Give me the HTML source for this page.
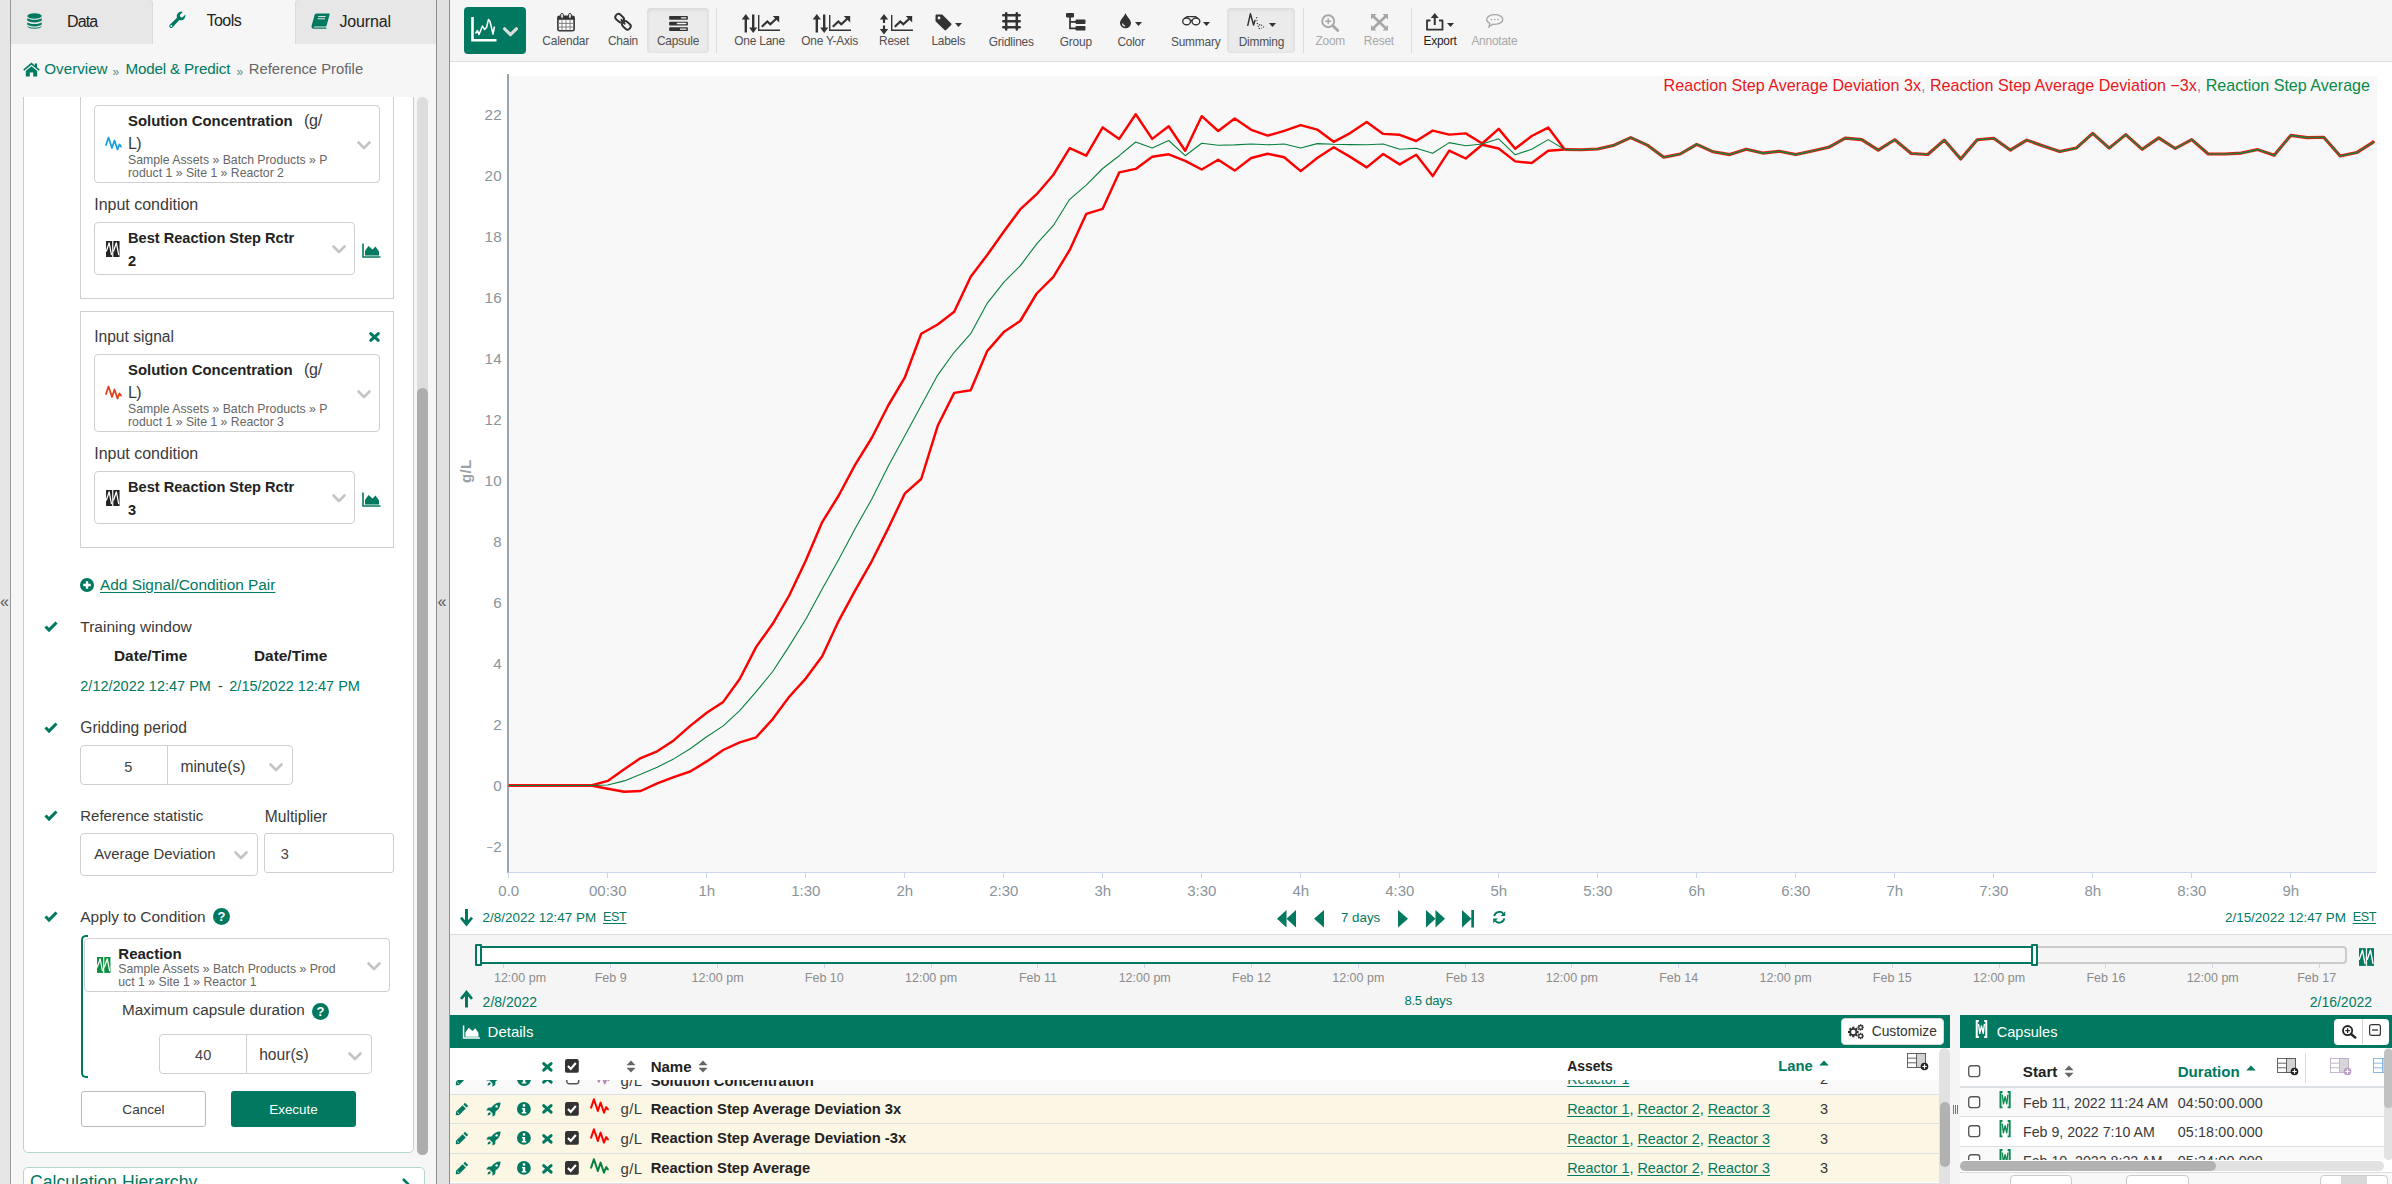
<!DOCTYPE html>
<html><head><meta charset="utf-8"><title>Reference Profile</title>
<style>
*{box-sizing:border-box}
html,body{margin:0;padding:0;overflow:hidden;width:2392px;height:1184px}
#root{position:absolute;left:0;top:0;width:2392px;height:1184px;overflow:hidden}
body{width:2392px;height:1184px;overflow:hidden;background:#fff;font-family:"Liberation Sans",sans-serif;color:#3a3a3a;position:relative;font-size:15px}
.a{position:absolute;white-space:nowrap}
.t{color:#007960}
.b{font-weight:bold}
svg{position:absolute;overflow:visible}
.ylab{position:absolute;width:40px;text-align:right;font-size:15.2px;color:#8a949b;letter-spacing:0.2px;line-height:16px}
.xlab{position:absolute;width:80px;text-align:center;font-size:15px;color:#8a949b;line-height:16px}
.slab{position:absolute;width:90px;text-align:center;font-size:12.5px;color:#8c8c8c;line-height:14px}

.box{position:absolute;border:1px solid #cfcfcf;background:#fff;border-radius:4px}

.tl{position:absolute;width:100px;text-align:center;font-size:11.9px;line-height:12px;color:#505050;letter-spacing:-0.2px;white-space:nowrap}
.tl.d{color:#a8a8a8}
.tact{position:absolute;background:#ebebeb;border-radius:4px;box-shadow:inset 0 1px 4px rgba(0,0,0,.10)}

.lnk{color:#007960;text-decoration:underline;text-underline-offset:2px}
</style></head>
<body><div id="root">
<div class="a" style="left:0;top:0;width:10px;height:1184px;background:#e6e6e6"></div>
<div class="a" style="left:10px;top:0;width:1px;height:1184px;background:#9b9b9b"></div>
<div class="a" style="left:11px;top:0;width:425px;height:1184px;background:#f6f6f6"></div>
<div class="a" style="left:436px;top:0;width:1px;height:1184px;background:#8e8e8e"></div>
<div class="a" style="left:437px;top:0;width:12px;height:1184px;background:#e1e1e1"></div>
<div class="a" style="left:449px;top:0;width:1px;height:1184px;background:#8e8e8e"></div>
<div class="a" style="left:0px;top:594.3px;font-size:16px;line-height:16px;color:#555;font-weight:normal;">«</div>
<div class="a" style="left:437.5px;top:594.3px;font-size:16px;line-height:16px;color:#555;font-weight:normal;">«</div>
<div class="a" style="left:11px;top:-4px;width:142px;height:48px;background:#e7e7e7;border-right:1px solid #dadada;border-radius:0 8px 0 0"></div>
<div class="a" style="left:295px;top:-4px;width:141px;height:48px;background:#e7e7e7;border-left:1px solid #dadada;border-radius:8px 0 0 0"></div>
<svg style="left:27px;top:13px" width="15" height="16" viewBox="0 0 15 16" ><ellipse cx="7.5" cy="3" rx="7.2" ry="2.8" fill="#007960"/><path d="M0.3 5 C2 7.4 13 7.4 14.7 5 V7.6 C13 10 2 10 0.3 7.6 Z M0.3 9.2 C2 11.6 13 11.6 14.7 9.2 V11.6 C13 14 2 14 0.3 11.6 Z M0.3 13 C2 15.2 13 15.2 14.7 13 V13.6 C13 16.6 2 16.6 0.3 13.6 Z" fill="#007960"/></svg>
<div class="a" style="left:67px;top:13.9px;font-size:16px;line-height:16px;color:#222;font-weight:normal;letter-spacing:-0.9px">Data</div>
<svg style="left:168px;top:11px" width="18" height="18" viewBox="0 0 18 18" ><path d="M2.2 16.8 C1 15.8 1 14.6 1.8 13.8 L9 6.8 C8.2 4 9.6 1.6 12.4 0.8 C13.4 0.6 14.2 0.7 14.8 0.9 L11.8 3.9 L12.4 6 L14.4 6.5 L17.3 3.6 C17.6 5.6 17 7.4 15.6 8.4 C14.4 9.3 12.8 9.5 11.4 9.1 L4.4 16.4 C3.7 17.2 2.8 17.3 2.2 16.8 Z" fill="#007960"/><circle cx="3.3" cy="15" r="0.9" fill="#f6f6f6"/></svg>
<div class="a" style="left:206.5px;top:13.1px;font-size:16px;line-height:16px;color:#222;font-weight:normal;letter-spacing:-0.55px">Tools</div>
<svg style="left:311px;top:13px" width="19" height="16" viewBox="0 0 19 16" ><path d="M5.5 0.5 H18 C18.6 0.5 18.8 1 18.6 1.6 L15.6 12.6 C15.4 13.2 15 13.4 14.4 13.4 H3.4 C2.6 13.6 2.6 14.6 3.4 14.6 H15.4 V15.8 H3 C0.6 15.8 0 13.8 0.8 12 L3.6 2 C3.9 1 4.6 0.5 5.5 0.5 Z" fill="#007960"/><path d="M7.2 3.6 H14.6 M6.6 5.8 H14" stroke="#e7e7e7" stroke-width="1"/></svg>
<div class="a" style="left:339.5px;top:13.9px;font-size:16px;line-height:16px;color:#222;font-weight:normal;letter-spacing:-0.15px">Journal</div>
<svg style="left:23px;top:62px" width="17" height="15" viewBox="0 0 17 15" ><path d="M8.5 0.6 L11.8 3.4 V1.4 H14 V5.2 L16.8 7.6 L15.8 8.8 L8.5 2.8 L1.2 8.8 L0.2 7.6 Z M8.5 4.2 L14.2 8.9 V14.6 H10.2 V10.4 H6.8 V14.6 H2.8 V8.9 Z" fill="#007960"/></svg>
<div class="a" style="left:44.3px;top:61.4px;font-size:15.2px;line-height:15.2px;color:#007960;font-weight:normal;">Overview</div>
<div class="a" style="left:112.5px;top:65.9px;font-size:12px;line-height:12px;color:#5a8f86;font-weight:normal;">»</div>
<div class="a" style="left:125.4px;top:61.4px;font-size:15.2px;line-height:15.2px;color:#007960;font-weight:normal;letter-spacing:-0.15px">Model &amp; Predict</div>
<div class="a" style="left:236.5px;top:65.9px;font-size:12px;line-height:12px;color:#5a8f86;font-weight:normal;">»</div>
<div class="a" style="left:248.8px;top:61.8px;font-size:14.8px;line-height:14.8px;color:#666;font-weight:normal;">Reference Profile</div>
<div class="a" style="left:23px;top:97px;width:391px;height:1056px;overflow:hidden"><div style="position:absolute;left:0;top:-10px;width:391px;height:1066px;background:#fff;border:1px solid #b3d7ce;border-radius:5px"></div></div>
<div class="a" style="left:417px;top:97px;width:11px;height:1058px;background:#dddddd;border-radius:6px"></div>
<div class="a" style="left:417px;top:388px;width:11px;height:767px;background:#adadad;border-radius:6px"></div>
<div class="a" style="left:23px;top:1167px;width:402px;height:40px;background:#fff;border:1px solid #b3d7ce;border-radius:5px"></div>
<div class="a" style="left:30px;top:1174.4px;font-size:17.6px;line-height:17.6px;color:#007960;font-weight:normal;">Calculation Hierarchy</div>
<svg style="left:402px;top:1178px" width="9" height="8" viewBox="0 0 9 8" ><polyline points="1,1 7,7" fill="none" stroke="#007960" stroke-width="2.6"/></svg>
<div class="a" style="left:80px;top:97px;width:314px;height:202px;overflow:hidden"><div style="position:absolute;left:0;top:-10px;width:314px;height:212px;border:1px solid #cfcfcf;background:#fff"></div></div>
<div class="box" style="left:94px;top:105px;width:286px;height:78px"></div>
<svg style="left:104.5px;top:136.4px" width="17" height="15" viewBox="0 0 17 15" ><polyline points="1,9 3.5,1.5 7,12 9.5,4.5 12.5,13.5 14.5,8.5 16,10.5" fill="none" stroke="#1aa1e0" stroke-width="1.8" stroke-linejoin="round" stroke-linecap="round"/></svg>
<div class="a" style="left:128px;top:113.7px;font-size:14.9px;line-height:14.9px;color:#222;font-weight:bold;">Solution Concentration</div>
<div class="a" style="left:304px;top:112.8px;font-size:16px;line-height:16px;color:#3a3a3a;font-weight:normal;letter-spacing:-0.3px">(g/</div>
<div class="a" style="left:128px;top:135.8px;font-size:16px;line-height:16px;color:#3a3a3a;font-weight:normal;letter-spacing:-0.6px">L)</div>
<div class="a" style="left:128px;top:154.0px;font-size:12.25px;line-height:12.25px;color:#666;font-weight:normal;">Sample Assets » Batch Products » P</div>
<div class="a" style="left:128px;top:166.6px;font-size:12.25px;line-height:12.25px;color:#666;font-weight:normal;">roduct 1 » Site 1 » Reactor 2</div>
<svg style="left:357px;top:141px" width="14" height="9" viewBox="0 0 14 9" ><polyline points="1.5,1.5 7,7 12.5,1.5" fill="none" stroke="#c4c4c4" stroke-width="2.6" stroke-linecap="round" stroke-linejoin="round"/></svg>
<div class="a" style="left:94.2px;top:197.1px;font-size:16px;line-height:16px;color:#3a3a3a;font-weight:normal;">Input condition</div>
<div class="box" style="left:94px;top:222px;width:261px;height:53px"></div>
<svg style="left:106.2px;top:240.9px" width="13.6" height="16" viewBox="0 0 13.5 16" ><rect x="0" y="0" width="6.1" height="16" fill="#222"/><rect x="7.3" y="0" width="6.2" height="16" fill="#222"/><polyline points="0.2,10.500 3.100,1.800 5.500,14.200" fill="none" stroke="#fff" stroke-width="1.250" stroke-linejoin="round"/><polyline points="7.400,10.500 10.300,1.800 12.700,14.200" fill="none" stroke="#fff" stroke-width="1.250" stroke-linejoin="round"/></svg>
<div class="a" style="left:128px;top:231.1px;font-size:14.6px;line-height:14.6px;color:#222;font-weight:bold;">Best Reaction Step Rctr</div>
<div class="a" style="left:128px;top:253.6px;font-size:14.6px;line-height:14.6px;color:#222;font-weight:bold;">2</div>
<svg style="left:332.3px;top:244.8px" width="14" height="9" viewBox="0 0 14 9" ><polyline points="1.5,1.5 7,7 12.5,1.5" fill="none" stroke="#c4c4c4" stroke-width="2.6" stroke-linecap="round" stroke-linejoin="round"/></svg>
<svg style="left:361.5px;top:242.6px" width="19" height="15" viewBox="0 0 19 15" ><path d="M1 0.5 V14 H18.5" fill="none" stroke="#007960" stroke-width="1.6"/><path d="M3 12.5 V8 L6.5 3 L10.5 6.5 L13.5 3.5 L17 8.5 V12.5 Z" fill="#007960"/></svg>
<div class="a" style="left:80px;top:311px;width:314px;height:237px;border:1px solid #cfcfcf;background:#fff"></div>
<div class="a" style="left:94.2px;top:329.4px;font-size:15.6px;line-height:15.6px;color:#3a3a3a;font-weight:normal;">Input signal</div>
<svg style="left:368.5px;top:331.5px" width="11" height="9.9" viewBox="0 0 11 10" ><path d="M1.700 1.600 L9.300 8.400 M9.300 1.600 L1.700 8.400" stroke="#007960" stroke-width="3.1" stroke-linecap="round"/></svg>
<div class="box" style="left:94px;top:354px;width:286px;height:78px"></div>
<svg style="left:104.5px;top:385.4px" width="17" height="15" viewBox="0 0 17 15" ><polyline points="1,9 3.5,1.5 7,12 9.5,4.5 12.5,13.5 14.5,8.5 16,10.5" fill="none" stroke="#e0421c" stroke-width="1.8" stroke-linejoin="round" stroke-linecap="round"/></svg>
<div class="a" style="left:128px;top:362.7px;font-size:14.9px;line-height:14.9px;color:#222;font-weight:bold;">Solution Concentration</div>
<div class="a" style="left:304px;top:361.8px;font-size:16px;line-height:16px;color:#3a3a3a;font-weight:normal;letter-spacing:-0.3px">(g/</div>
<div class="a" style="left:128px;top:384.8px;font-size:16px;line-height:16px;color:#3a3a3a;font-weight:normal;letter-spacing:-0.6px">L)</div>
<div class="a" style="left:128px;top:403.0px;font-size:12.25px;line-height:12.25px;color:#666;font-weight:normal;">Sample Assets » Batch Products » P</div>
<div class="a" style="left:128px;top:415.6px;font-size:12.25px;line-height:12.25px;color:#666;font-weight:normal;">roduct 1 » Site 1 » Reactor 3</div>
<svg style="left:357px;top:390px" width="14" height="9" viewBox="0 0 14 9" ><polyline points="1.5,1.5 7,7 12.5,1.5" fill="none" stroke="#c4c4c4" stroke-width="2.6" stroke-linecap="round" stroke-linejoin="round"/></svg>
<div class="a" style="left:94.2px;top:446.2px;font-size:16px;line-height:16px;color:#3a3a3a;font-weight:normal;">Input condition</div>
<div class="box" style="left:94px;top:471px;width:261px;height:53px"></div>
<svg style="left:106.2px;top:489.9px" width="13.6" height="16" viewBox="0 0 13.5 16" ><rect x="0" y="0" width="6.1" height="16" fill="#222"/><rect x="7.3" y="0" width="6.2" height="16" fill="#222"/><polyline points="0.2,10.500 3.100,1.800 5.500,14.200" fill="none" stroke="#fff" stroke-width="1.250" stroke-linejoin="round"/><polyline points="7.400,10.500 10.300,1.800 12.700,14.200" fill="none" stroke="#fff" stroke-width="1.250" stroke-linejoin="round"/></svg>
<div class="a" style="left:128px;top:480.1px;font-size:14.6px;line-height:14.6px;color:#222;font-weight:bold;">Best Reaction Step Rctr</div>
<div class="a" style="left:128px;top:502.6px;font-size:14.6px;line-height:14.6px;color:#222;font-weight:bold;">3</div>
<svg style="left:332.3px;top:493.8px" width="14" height="9" viewBox="0 0 14 9" ><polyline points="1.5,1.5 7,7 12.5,1.5" fill="none" stroke="#c4c4c4" stroke-width="2.6" stroke-linecap="round" stroke-linejoin="round"/></svg>
<svg style="left:361.5px;top:491.6px" width="19" height="15" viewBox="0 0 19 15" ><path d="M1 0.5 V14 H18.5" fill="none" stroke="#007960" stroke-width="1.6"/><path d="M3 12.5 V8 L6.5 3 L10.5 6.5 L13.5 3.5 L17 8.5 V12.5 Z" fill="#007960"/></svg>
<svg style="left:80px;top:577.8px" width="14" height="14" viewBox="0 0 14 14" ><circle cx="7" cy="7" r="7" fill="#007960"/><path d="M7 3.2 V10.8 M3.2 7 H10.8" stroke="#fff" stroke-width="2.4"/></svg>
<div class="a" style="left:100px;top:577.4px;font-size:15.4px;line-height:15.4px;color:#007960;font-weight:normal;text-decoration:underline;text-underline-offset:2px">Add Signal/Condition Pair</div>
<svg style="left:43.6px;top:620.8px" width="14" height="11" viewBox="0 0 14 11" ><polyline points="1.5,5.5 5,9 12.5,1.5" fill="none" stroke="#007960" stroke-width="3.1" stroke-linejoin="miter"/></svg>
<div class="a" style="left:80.3px;top:619.4px;font-size:15.5px;line-height:15.5px;color:#3a3a3a;font-weight:normal;">Training window</div>
<div class="a" style="left:114px;top:647.7px;font-size:15.4px;line-height:15.4px;color:#222;font-weight:bold;">Date/Time</div>
<div class="a" style="left:254px;top:647.7px;font-size:15.4px;line-height:15.4px;color:#222;font-weight:bold;">Date/Time</div>
<div class="a" style="left:80.3px;top:679.2px;font-size:14.5px;line-height:14.5px;color:#007960;font-weight:normal;">2/12/2022 12:47 PM</div>
<div class="a" style="left:218px;top:679.2px;font-size:14.5px;line-height:14.5px;color:#3a3a3a;font-weight:normal;">-</div>
<div class="a" style="left:229.3px;top:679.2px;font-size:14.5px;line-height:14.5px;color:#007960;font-weight:normal;">2/15/2022 12:47 PM</div>
<svg style="left:43.6px;top:722px" width="14" height="11" viewBox="0 0 14 11" ><polyline points="1.5,5.5 5,9 12.5,1.5" fill="none" stroke="#007960" stroke-width="3.1" stroke-linejoin="miter"/></svg>
<div class="a" style="left:80.3px;top:720.1px;font-size:15.6px;line-height:15.6px;color:#3a3a3a;font-weight:normal;">Gridding period</div>
<div class="box" style="left:80px;top:745px;width:213px;height:40px"></div>
<div class="a" style="left:167px;top:746px;width:1px;height:38px;background:#cfcfcf"></div>
<div class="a" style="left:-21.599999999999994px;width:300px;text-align:center;top:759.5px;font-size:14.5px;line-height:14.5px;color:#444;font-weight:normal;">5</div>
<div class="a" style="left:180.4px;top:758.6px;font-size:15.6px;line-height:15.6px;color:#3a3a3a;font-weight:normal;">minute(s)</div>
<svg style="left:269px;top:762.8px" width="14" height="9" viewBox="0 0 14 9" ><polyline points="1.5,1.5 7,7 12.5,1.5" fill="none" stroke="#c4c4c4" stroke-width="2.6" stroke-linecap="round" stroke-linejoin="round"/></svg>
<svg style="left:43.6px;top:810.3px" width="14" height="11" viewBox="0 0 14 11" ><polyline points="1.5,5.5 5,9 12.5,1.5" fill="none" stroke="#007960" stroke-width="3.1" stroke-linejoin="miter"/></svg>
<div class="a" style="left:80.3px;top:809.0px;font-size:14.95px;line-height:14.95px;color:#3a3a3a;font-weight:normal;">Reference statistic</div>
<div class="a" style="left:264.8px;top:808.5px;font-size:15.6px;line-height:15.6px;color:#3a3a3a;font-weight:normal;">Multiplier</div>
<div class="box" style="left:80px;top:833px;width:178px;height:43px"></div>
<div class="a" style="left:94.2px;top:846.6px;font-size:14.9px;line-height:14.9px;color:#3a3a3a;font-weight:normal;">Average Deviation</div>
<svg style="left:234.3px;top:850.8px" width="14" height="9" viewBox="0 0 14 9" ><polyline points="1.5,1.5 7,7 12.5,1.5" fill="none" stroke="#c4c4c4" stroke-width="2.6" stroke-linecap="round" stroke-linejoin="round"/></svg>
<div class="box" style="left:264px;top:833px;width:130px;height:40px;border-radius:3px"></div>
<div class="a" style="left:280.7px;top:846.9px;font-size:14.5px;line-height:14.5px;color:#444;font-weight:normal;">3</div>
<svg style="left:43.6px;top:910.6px" width="14" height="11" viewBox="0 0 14 11" ><polyline points="1.5,5.5 5,9 12.5,1.5" fill="none" stroke="#007960" stroke-width="3.1" stroke-linejoin="miter"/></svg>
<div class="a" style="left:80.3px;top:909.2px;font-size:15.45px;line-height:15.45px;color:#3a3a3a;font-weight:normal;">Apply to Condition</div>
<svg style="left:212.8px;top:908px" width="17" height="17" viewBox="0 0 17 17" ><circle cx="8.5" cy="8.5" r="8.5" fill="#007960"/><text x="8.5" y="13.2" text-anchor="middle" font-family="Liberation Sans" font-weight="bold" font-size="13" fill="#fff">?</text></svg>
<div class="a" style="left:80.5px;top:934.5px;width:7.5px;height:143.5px;border:2px solid #007960;border-right:none;border-radius:5px 0 0 5px"></div>
<div class="box" style="left:84px;top:938px;width:306px;height:54px"></div>
<svg style="left:96.6px;top:957px" width="13.5" height="15.9" viewBox="0 0 13.5 16" ><rect x="0" y="0" width="6.1" height="16" fill="#078f3e"/><rect x="7.3" y="0" width="6.2" height="16" fill="#078f3e"/><polyline points="0.2,10.500 3.100,1.800 5.500,14.200" fill="none" stroke="#fff" stroke-width="1.250" stroke-linejoin="round"/><polyline points="7.400,10.500 10.300,1.800 12.700,14.200" fill="none" stroke="#fff" stroke-width="1.250" stroke-linejoin="round"/></svg>
<div class="a" style="left:118.3px;top:945.5px;font-size:15px;line-height:15px;color:#222;font-weight:bold;">Reaction</div>
<div class="a" style="left:118.3px;top:963.1px;font-size:12.25px;line-height:12.25px;color:#666;font-weight:normal;">Sample Assets » Batch Products » Prod</div>
<div class="a" style="left:118.3px;top:976.2px;font-size:12.25px;line-height:12.25px;color:#666;font-weight:normal;">uct 1 » Site 1 » Reactor 1</div>
<svg style="left:366.6px;top:962px" width="14" height="9" viewBox="0 0 14 9" ><polyline points="1.5,1.5 7,7 12.5,1.5" fill="none" stroke="#c4c4c4" stroke-width="2.6" stroke-linecap="round" stroke-linejoin="round"/></svg>
<div class="a" style="left:122px;top:1002.3px;font-size:15.3px;line-height:15.3px;color:#3a3a3a;font-weight:normal;">Maximum capsule duration</div>
<svg style="left:312.2px;top:1002.6px" width="17" height="17" viewBox="0 0 17 17" ><circle cx="8.5" cy="8.5" r="8.5" fill="#007960"/><text x="8.5" y="13.2" text-anchor="middle" font-family="Liberation Sans" font-weight="bold" font-size="13" fill="#fff">?</text></svg>
<div class="box" style="left:159px;top:1034px;width:213px;height:40px"></div>
<div class="a" style="left:246px;top:1035px;width:1px;height:38px;background:#cfcfcf"></div>
<div class="a" style="left:53.19999999999999px;width:300px;text-align:center;top:1048.1px;font-size:14.5px;line-height:14.5px;color:#444;font-weight:normal;">40</div>
<div class="a" style="left:259.2px;top:1047.2px;font-size:15.6px;line-height:15.6px;color:#3a3a3a;font-weight:normal;">hour(s)</div>
<svg style="left:348.4px;top:1052px" width="14" height="9" viewBox="0 0 14 9" ><polyline points="1.5,1.5 7,7 12.5,1.5" fill="none" stroke="#c4c4c4" stroke-width="2.6" stroke-linecap="round" stroke-linejoin="round"/></svg>
<div class="a" style="left:81px;top:1091px;width:125px;height:36px;border:1px solid #b9b9b9;border-radius:3px;background:#fff"></div>
<div class="a" style="left:-6.5px;width:300px;text-align:center;top:1102.5px;font-size:13.6px;line-height:13.6px;color:#3a3a3a;font-weight:normal;">Cancel</div>
<div class="a" style="left:231px;top:1091px;width:125px;height:36px;border-radius:3px;background:#007960"></div>
<div class="a" style="left:143.5px;width:300px;text-align:center;top:1102.7px;font-size:13.4px;line-height:13.4px;color:#fff;font-weight:normal;">Execute</div>
<div class="a" style="left:450px;top:0;width:1942px;height:62px;background:#f5f5f5;border-bottom:1px solid #dcdcdc"></div>
<div class="a" style="left:464px;top:7px;width:62px;height:47px;background:#007960;border-radius:4px"></div>
<svg style="left:470.5px;top:17px" width="26" height="25" viewBox="0 0 26 25" ><path d="M1.5 0 V23.2 H25.5" fill="none" stroke="#fff" stroke-width="2.6"/><polyline points="4.5,16.5 6.5,13.5 8,17.5 11.5,9 13.5,12.5 15.5,10.5 17.5,2.5 19,4.5 22,17 23.5,9.5" fill="none" stroke="#fff" stroke-width="1.5" stroke-linejoin="round"/></svg>
<svg style="left:502.5px;top:26.5px" width="15" height="10" viewBox="0 0 14 9" ><polyline points="1.5,1.5 7,7 12.5,1.5" fill="none" stroke="#dcdcdc" stroke-width="3" stroke-linecap="round" stroke-linejoin="round"/></svg>
<svg style="left:557px;top:13px" width="18" height="18.5" viewBox="0 0 18 18.5" ><rect x="0.9" y="3.2" width="16.2" height="14.6" rx="1.6" fill="#fbfbfb" stroke="#333" stroke-width="1.6"/><rect x="0.9" y="3.2" width="16.2" height="3.6" fill="#333"/><path d="M4.95 7 V17.5" stroke="#777" stroke-width="0.9"/><path d="M9.00 7 V17.5" stroke="#777" stroke-width="0.9"/><path d="M13.05 7 V17.5" stroke="#777" stroke-width="0.9"/><path d="M1.2 10.40 H16.8" stroke="#777" stroke-width="0.9"/><path d="M1.2 14.00 H16.8" stroke="#777" stroke-width="0.9"/><rect x="3.7" y="0.5" width="2.7" height="4.9" rx="1.3" fill="#f5f5f5" stroke="#333" stroke-width="1"/><rect x="11.6" y="0.5" width="2.7" height="4.9" rx="1.3" fill="#f5f5f5" stroke="#333" stroke-width="1"/></svg>
<div class="tl " style="left:515.7px;top:35.1px">Calendar</div>
<svg style="left:614px;top:13px" width="18" height="17.5" viewBox="0 0 18 17.5" ><g fill="none" stroke="#333" stroke-width="1.9"><rect x="-4.7" y="-3.1" width="9.4" height="6.2" rx="3.1" transform="translate(5.6,5.2) rotate(42)"/><rect x="-4.7" y="-3.1" width="9.4" height="6.2" rx="3.1" transform="translate(12.4,12.3) rotate(42)"/></g><path d="M7.4 6.8 L10.6 10.7" stroke="#333" stroke-width="1.9" stroke-linecap="round"/></svg>
<div class="tl " style="left:573.0px;top:35.1px">Chain</div>
<div class="tact" style="left:647px;top:8px;width:62px;height:45px"></div>
<svg style="left:668.5px;top:15.8px" width="19" height="15" viewBox="0 0 20 16" ><rect x="0" y="0" width="20" height="4" rx="0.8" fill="#333"/><rect x="0" y="6" width="20" height="4" rx="0.8" fill="#333"/><rect x="0" y="12" width="20" height="4" rx="0.8" fill="#333"/><rect x="12.5" y="1.2" width="6" height="1.5" rx="0.7" fill="#f2f2f2"/><rect x="8" y="7.2" width="10.5" height="1.5" rx="0.7" fill="#f2f2f2"/><rect x="11.5" y="13.2" width="7" height="1.5" rx="0.7" fill="#f2f2f2"/></svg>
<div class="tl " style="left:628.0px;top:35.1px">Capsule</div>
<div class="a" style="left:716px;top:8px;width:1px;height:45px;background:#dcdcdc"></div>
<svg style="left:741.7px;top:13.8px" width="15" height="19" viewBox="0 0 15 19" ><path d="M3.8 18.5 V4" stroke="#333" stroke-width="2.4"/><path d="M-0.3 5.6 L3.8 0 L7.9 5.6 Z" fill="#333"/><path d="M11.2 0.5 V15" stroke="#333" stroke-width="2.4"/><path d="M7.1 13.4 L11.2 19 L15.3 13.4 Z" fill="#333"/></svg>
<svg style="left:758px;top:14.5px" width="22" height="16" viewBox="0 0 22 16" ><path d="M0.7 0 V15.2 H22" fill="none" stroke="#333" stroke-width="1.4"/><polyline points="3.8,11.8 9.300,6.500 12.300,9.300 19,3" fill="none" stroke="#333" stroke-width="2.200"/><path d="M14.800 1 H21.200 V7.400 Z" fill="#333"/></svg>
<div class="tl " style="left:709.6px;top:35.1px">One Lane</div>
<svg style="left:813px;top:13.8px" width="15" height="19" viewBox="0 0 15 19" ><path d="M3.8 18.5 V4" stroke="#333" stroke-width="2.4"/><path d="M-0.3 5.6 L3.8 0 L7.9 5.6 Z" fill="#333"/><path d="M11.2 0.5 V15" stroke="#333" stroke-width="2.4"/><path d="M7.1 13.4 L11.2 19 L15.3 13.4 Z" fill="#333"/></svg>
<svg style="left:829px;top:14.5px" width="22" height="16" viewBox="0 0 22 16" ><path d="M0.7 0 V15.2 H22" fill="none" stroke="#333" stroke-width="1.4"/><polyline points="3.8,11.8 9.300,6.500 12.300,9.300 19,3" fill="none" stroke="#333" stroke-width="2.200"/><path d="M14.800 1 H21.200 V7.400 Z" fill="#333"/></svg>
<div class="tl " style="left:779.6px;top:35.1px">One Y-Axis</div>
<svg style="left:879.5px;top:13.8px" width="8" height="20.5" viewBox="0 0 8 20.5" ><path d="M4 4 V9 M4 11.500 V16.500" stroke="#333" stroke-width="2.2"/><path d="M-0.2 5.6 L4 0 L8.2 5.600 Z M-0.2 14.900 L4 20.500 L8.200 14.900 Z" fill="#333"/></svg>
<svg style="left:891px;top:14.5px" width="22" height="16" viewBox="0 0 22 16" ><path d="M0.7 0 V15.2 H22" fill="none" stroke="#333" stroke-width="1.4"/><polyline points="3.8,11.8 9.300,6.500 12.300,9.300 19,3" fill="none" stroke="#333" stroke-width="2.200"/><path d="M14.800 1 H21.200 V7.400 Z" fill="#333"/></svg>
<div class="tl " style="left:844.1px;top:35.1px">Reset</div>
<svg style="left:934.5px;top:14px" width="17" height="16.5" viewBox="0 0 17 16.5" ><path d="M0.5 1.8 C0.5 1 1 0.5 1.8 0.5 H7.2 L16.2 9.5 C16.7 10 16.7 10.6 16.2 11.1 L11.1 16.1 C10.6 16.6 10 16.6 9.5 16.1 L0.5 7.2 Z" fill="#333"/><circle cx="4" cy="4" r="1.4" fill="#f5f5f5"/></svg>
<svg style="left:955px;top:23px" width="7" height="4" viewBox="0 0 7 4" ><path d="M0 0 H7 L3.5 4 Z" fill="#333"/></svg>
<div class="tl " style="left:898.3px;top:35.1px">Labels</div>
<svg style="left:1001.8px;top:12px" width="19" height="18.6" viewBox="0 0 19 18.6" ><path d="M4.2 1.200 V17.400 M14.800 1.200 V17.400 M1.300 3.300 H17.700 M1.300 9.300 H17.700 M1.300 15.300 H17.700" stroke="#333" stroke-width="2.500" stroke-linecap="round"/></svg>
<div class="tl " style="left:961.2px;top:35.7px">Gridlines</div>
<svg style="left:1066.3px;top:12.5px" width="19.5" height="17.6" viewBox="0 0 19.5 17.6" ><rect x="0" y="0" width="8" height="4.6" rx="1" fill="#333"/><rect x="9.5" y="6.5" width="10" height="4.6" rx="1" fill="#333"/><rect x="9.5" y="13" width="10" height="4.6" rx="1" fill="#333"/><path d="M4 4 V15.3 H10 M4 8.8 H10" fill="none" stroke="#333" stroke-width="1.7"/></svg>
<div class="tl " style="left:1025.8px;top:35.7px">Group</div>
<svg style="left:1120.3px;top:12.5px" width="11" height="15.2" viewBox="0 0 11 15.2" ><path d="M5.5 0 C6.5 3.5 11 6.5 11 10 A5.5 5.2 0 0 1 0 10 C0 6.500 4.5 3.500 5.500 0 Z" fill="#333"/><path d="M2.6 10.4 A2.6 2.6 0 0 0 5.2 13" fill="none" stroke="#f5f5f5" stroke-width="1.1"/></svg>
<svg style="left:1135px;top:22px" width="7" height="4" viewBox="0 0 7 4" ><path d="M0 0 H7 L3.5 4 Z" fill="#333"/></svg>
<div class="tl " style="left:1081.1px;top:35.7px">Color</div>
<svg style="left:1181.7px;top:15.5px" width="18.5" height="9.5" viewBox="0 0 18.5 9.5" ><ellipse cx="4.6" cy="5.4" rx="3.9" ry="3.4" fill="none" stroke="#333" stroke-width="1.4"/><ellipse cx="13.9" cy="5.4" rx="3.9" ry="3.4" fill="none" stroke="#333" stroke-width="1.4"/><path d="M2.5 2.5 L5 0.7 H13.500 L16 2.5 M8.300 4.500 H10.200" fill="none" stroke="#333" stroke-width="1.3"/></svg>
<svg style="left:1203px;top:22px" width="7" height="4" viewBox="0 0 7 4" ><path d="M0 0 H7 L3.5 4 Z" fill="#333"/></svg>
<div class="tl " style="left:1145.7px;top:35.7px">Summary</div>
<div class="tact" style="left:1227.4px;top:7.5px;width:67.7px;height:45.2px"></div>
<svg style="left:1246.9px;top:12.5px" width="19" height="16.5" viewBox="0 0 19 16.5" ><polyline points="0.8,12.300 3.400,0.800 6.600,12 8,7.400" fill="none" stroke="#333" stroke-width="1.500" stroke-linejoin="round" stroke-linecap="round"/><g fill="#444"><circle cx="9.700" cy="4.800" r="0.700"/><circle cx="10" cy="7.600" r="0.700"/><circle cx="10.400" cy="10.400" r="0.750"/><circle cx="12.600" cy="11.800" r="0.750"/><circle cx="11.300" cy="13.200" r="0.700"/><circle cx="12.300" cy="15.600" r="0.750"/><circle cx="14.600" cy="12.200" r="0.700"/><circle cx="16.600" cy="14" r="0.650"/><circle cx="14.600" cy="15" r="0.500"/></g></svg>
<svg style="left:1268.7px;top:23px" width="7" height="4" viewBox="0 0 7 4" ><path d="M0 0 H7 L3.5 4 Z" fill="#333"/></svg>
<div class="tl " style="left:1211.4px;top:35.7px">Dimming</div>
<div class="a" style="left:1303px;top:8px;width:1px;height:45px;background:#dcdcdc"></div>
<svg style="left:1321.4px;top:14.3px" width="18" height="17.5" viewBox="0 0 18 17.5" ><circle cx="7.2" cy="7.2" r="6" fill="none" stroke="#a6a6a6" stroke-width="1.9"/><path d="M11.800 11.800 L16.800 16.500" stroke="#a6a6a6" stroke-width="2.8" stroke-linecap="round"/><path d="M7.200 4.200 V10.200 M4.200 7.200 H10.200" stroke="#a6a6a6" stroke-width="1.4"/></svg>
<div class="tl d" style="left:1280.3px;top:35.1px">Zoom</div>
<svg style="left:1370.6px;top:13.8px" width="17" height="16.5" viewBox="0 0 17 16.5" ><path d="M2.500 2.500 L14.500 14 M14.500 2.500 L2.500 14" stroke="#a6a6a6" stroke-width="2.6"/><path d="M0 0 H5.500 L0 5.500 Z M17 0 H11.500 L17 5.500 Z M0 16.500 H5.500 L0 11 Z M17 16.500 H11.500 L17 11 Z" fill="#a6a6a6"/></svg>
<div class="tl d" style="left:1328.9px;top:35.1px">Reset</div>
<div class="a" style="left:1411px;top:8px;width:1px;height:45px;background:#dcdcdc"></div>
<svg style="left:1426.3px;top:12.5px" width="17.5" height="17.6" viewBox="0 0 17.5 17.6" ><path d="M4.500 7.500 H1 V16.700 H16.500 V7.500 H13" fill="none" stroke="#333" stroke-width="1.8" stroke-linejoin="round"/><path d="M8.750 12 V3.500" stroke="#333" stroke-width="2"/><path d="M4.800 5 L8.750 0 L12.700 5 Z" fill="#333"/></svg>
<svg style="left:1447px;top:23px" width="7" height="4" viewBox="0 0 7 4" ><path d="M0 0 H7 L3.5 4 Z" fill="#333"/></svg>
<div class="tl " style="left:1390.0px;top:35.1px"><span style="color:#222">Export</span></div>
<svg style="left:1486px;top:14.3px" width="17.5" height="13.5" viewBox="0 0 17.5 13.5" ><path d="M8.750 0.700 C13.500 0.700 16.800 2.800 16.800 5.500 C16.800 8.200 13.500 10.300 8.750 10.300 C8 10.300 7.300 10.250 6.600 10.150 L3 12.800 L3.800 9.300 C1.800 8.400 0.700 7 0.700 5.500 C0.700 2.800 4 0.700 8.750 0.700 Z" fill="none" stroke="#a6a6a6" stroke-width="1.3"/><circle cx="5.500" cy="5.500" r="0.800" fill="#a6a6a6"/><circle cx="8.750" cy="5.500" r="0.800" fill="#a6a6a6"/><circle cx="12" cy="5.500" r="0.800" fill="#a6a6a6"/></svg>
<div class="tl d" style="left:1444.4px;top:35.1px">Annotate</div>
<div class="a" style="left:509px;top:76px;width:1868px;height:796px;background:#f8f8f8"></div><div class="a" style="left:507px;top:74px;width:2px;height:799px;background:#9aa5ab"></div><div class="a" style="left:508px;top:872px;width:1868px;height:1px;background:#ccd6eb"></div><div class="ylab" style="left:461.8px;top:838.9px"><span style="font-size:11px;position:relative;top:-1px">−</span>2</div><div class="ylab" style="left:461.8px;top:777.9px">0</div><div class="ylab" style="left:461.8px;top:716.9px">2</div><div class="ylab" style="left:461.8px;top:655.9px">4</div><div class="ylab" style="left:461.8px;top:594.9px">6</div><div class="ylab" style="left:461.8px;top:533.9px">8</div><div class="ylab" style="left:461.8px;top:472.9px">10</div><div class="ylab" style="left:461.8px;top:411.9px">12</div><div class="ylab" style="left:461.8px;top:350.9px">14</div><div class="ylab" style="left:461.8px;top:289.9px">16</div><div class="ylab" style="left:461.8px;top:228.9px">18</div><div class="ylab" style="left:461.8px;top:167.9px">20</div><div class="ylab" style="left:461.8px;top:106.9px">22</div><div class="a" style="left:508px;top:873px;width:1px;height:5px;background:#ccd6eb"></div><div class="xlab" style="left:468.8px;top:883px">0.0</div><div class="a" style="left:607px;top:873px;width:1px;height:5px;background:#ccd6eb"></div><div class="xlab" style="left:567.8px;top:883px">00:30</div><div class="a" style="left:706px;top:873px;width:1px;height:5px;background:#ccd6eb"></div><div class="xlab" style="left:666.8px;top:883px">1h</div><div class="a" style="left:805px;top:873px;width:1px;height:5px;background:#ccd6eb"></div><div class="xlab" style="left:765.8px;top:883px">1:30</div><div class="a" style="left:904px;top:873px;width:1px;height:5px;background:#ccd6eb"></div><div class="xlab" style="left:864.8px;top:883px">2h</div><div class="a" style="left:1003px;top:873px;width:1px;height:5px;background:#ccd6eb"></div><div class="xlab" style="left:963.8px;top:883px">2:30</div><div class="a" style="left:1102px;top:873px;width:1px;height:5px;background:#ccd6eb"></div><div class="xlab" style="left:1062.8px;top:883px">3h</div><div class="a" style="left:1201px;top:873px;width:1px;height:5px;background:#ccd6eb"></div><div class="xlab" style="left:1161.8px;top:883px">3:30</div><div class="a" style="left:1300px;top:873px;width:1px;height:5px;background:#ccd6eb"></div><div class="xlab" style="left:1260.8px;top:883px">4h</div><div class="a" style="left:1399px;top:873px;width:1px;height:5px;background:#ccd6eb"></div><div class="xlab" style="left:1359.8px;top:883px">4:30</div><div class="a" style="left:1498px;top:873px;width:1px;height:5px;background:#ccd6eb"></div><div class="xlab" style="left:1458.8px;top:883px">5h</div><div class="a" style="left:1597px;top:873px;width:1px;height:5px;background:#ccd6eb"></div><div class="xlab" style="left:1557.8px;top:883px">5:30</div><div class="a" style="left:1696px;top:873px;width:1px;height:5px;background:#ccd6eb"></div><div class="xlab" style="left:1656.8px;top:883px">6h</div><div class="a" style="left:1795px;top:873px;width:1px;height:5px;background:#ccd6eb"></div><div class="xlab" style="left:1755.8px;top:883px">6:30</div><div class="a" style="left:1894px;top:873px;width:1px;height:5px;background:#ccd6eb"></div><div class="xlab" style="left:1854.8px;top:883px">7h</div><div class="a" style="left:1993px;top:873px;width:1px;height:5px;background:#ccd6eb"></div><div class="xlab" style="left:1953.8px;top:883px">7:30</div><div class="a" style="left:2092px;top:873px;width:1px;height:5px;background:#ccd6eb"></div><div class="xlab" style="left:2052.8px;top:883px">8h</div><div class="a" style="left:2191px;top:873px;width:1px;height:5px;background:#ccd6eb"></div><div class="xlab" style="left:2151.8px;top:883px">8:30</div><div class="a" style="left:2290px;top:873px;width:1px;height:5px;background:#ccd6eb"></div><div class="xlab" style="left:2250.8px;top:883px">9h</div><div class="a" style="left:458px;top:461px;width:16px;height:22px"><div style="transform:rotate(-90deg);transform-origin:0 0;position:absolute;left:0;top:22px;font-size:15px;font-weight:bold;color:#9aa0a4;line-height:16px;letter-spacing:0.3px">g/L</div></div><svg style="left:0;top:0" width="2392" height="1184" viewBox="0 0 2392 1184">
<polyline points="508.7,785.5 591.2,785.5 607.7,780.9 624.2,769.2 640.7,758.1 657.2,751.3 673.7,740.4 690.2,725.9 706.7,712.8 723.2,701.9 739.7,679.0 756.2,646.9 772.7,623.8 789.2,595.5 805.7,560.7 822.2,522.1 838.7,495.5 855.2,464.6 871.7,438.0 888.2,405.5 904.7,377.7 921.2,333.8 937.7,324.5 954.2,311.8 970.7,276.7 987.2,255.0 1003.7,231.7 1020.2,209.4 1036.7,194.2 1053.2,175.0 1069.7,148.2 1086.2,155.7 1102.7,127.4 1119.2,138.9 1135.7,114.2 1152.2,138.9 1168.7,126.3 1185.2,150.7 1201.7,116.2 1218.2,131.0 1234.7,118.5 1251.2,129.8 1267.7,135.6 1284.2,130.9 1300.7,125.1 1317.2,129.6 1333.7,141.8 1350.2,133.1 1366.7,122.1 1383.2,133.9 1399.7,134.8 1416.2,141.0 1432.7,130.6 1449.2,134.6 1465.7,133.4 1482.2,143.5 1498.7,128.9 1515.2,148.8 1531.7,136.0 1548.2,127.6 1564.7,149.5" fill="none" stroke="#ff0000" stroke-width="2.45" stroke-linejoin="round"/>
<polyline points="508.7,785.5 591.2,785.5 607.7,788.7 624.2,791.8 640.7,791.0 657.2,783.4 673.7,777.1 690.2,771.5 706.7,761.4 723.2,750.0 739.7,742.4 756.2,737.3 772.7,719.1 789.2,696.8 805.7,678.6 822.2,656.3 838.7,620.8 855.2,590.4 871.7,561.3 888.2,528.4 904.7,493.7 921.2,479.0 937.7,425.8 954.2,392.9 970.7,390.3 987.2,351.1 1003.7,332.1 1020.2,321.0 1036.7,293.5 1053.2,277.2 1069.7,250.0 1086.2,213.9 1102.7,208.8 1119.2,172.4 1135.7,168.9 1152.2,156.7 1168.7,154.3 1185.2,160.8 1201.7,169.5 1218.2,159.8 1234.7,170.6 1251.2,158.0 1267.7,153.8 1284.2,157.2 1300.7,171.1 1317.2,158.0 1333.7,147.2 1350.2,156.9 1366.7,167.4 1383.2,154.0 1399.7,164.4 1416.2,154.8 1432.7,176.1 1449.2,150.7 1465.7,158.5 1482.2,144.8 1498.7,148.5 1515.2,161.4 1531.7,163.0 1548.2,150.7 1564.7,149.5" fill="none" stroke="#ff0000" stroke-width="2.45" stroke-linejoin="round"/>
<polyline points="508.7,785.5 591.2,785.5 607.7,785.0 624.2,780.9 640.7,774.3 657.2,767.2 673.7,758.9 690.2,748.7 706.7,736.8 723.2,725.9 739.7,710.7 756.2,691.7 772.7,671.5 789.2,646.1 805.7,619.5 822.2,589.1 838.7,559.4 855.2,528.4 871.7,499.3 888.2,466.3 904.7,435.9 921.2,405.5 937.7,375.1 954.2,352.3 970.7,333.7 987.2,303.3 1003.7,282.3 1020.2,265.8 1036.7,243.9 1053.2,225.7 1069.7,199.3 1086.2,185.1 1102.7,168.5 1119.2,155.7 1135.7,142.0 1152.2,148.0 1168.7,140.5 1185.2,155.7 1201.7,143.2 1218.2,145.2 1234.7,144.9 1251.2,144.0 1267.7,144.8 1284.2,144.0 1300.7,148.0 1317.2,143.6 1333.7,144.3 1350.2,144.6 1366.7,144.8 1383.2,144.0 1399.7,149.3 1416.2,148.2 1432.7,153.2 1449.2,142.6 1465.7,145.7 1482.2,144.0 1498.7,138.8 1515.2,154.8 1531.7,149.3 1548.2,139.6 1564.7,149.5" fill="none" stroke="#06803f" stroke-width="1.1" stroke-linejoin="round"/>
<polyline points="1564.7,149.5 1581.2,149.7 1597.7,149.0 1614.2,145.2 1630.7,137.6 1647.2,145.1 1663.7,157.3 1680.2,154.0 1696.7,144.3 1713.2,151.8 1729.7,154.6 1746.2,149.3 1762.7,153.1 1779.2,151.3 1795.7,154.6 1812.2,151.0 1828.7,147.3 1845.2,138.1 1861.7,139.6 1878.2,150.1 1894.7,139.8 1911.2,153.5 1927.7,154.5 1944.2,140.1 1960.7,159.0 1977.2,139.8 1993.7,138.3 2010.2,150.1 2026.7,140.1 2043.2,146.0 2059.7,151.5 2076.2,148.1 2092.7,133.4 2109.2,148.1 2125.7,134.6 2142.2,149.3 2158.7,137.9 2175.2,148.5 2191.7,139.6 2208.2,154.0 2224.7,154.0 2241.2,153.1 2257.7,149.6 2274.2,155.2 2290.7,135.4 2307.2,137.6 2323.7,137.3 2340.2,156.0 2356.7,152.6 2373.2,142.1 2374,141" fill="none" stroke="#ff0a0a" stroke-width="3.1" stroke-linejoin="round"/>
<polyline points="1564.7,149.5 1581.2,149.7 1597.7,149.0 1614.2,145.2 1630.7,137.6 1647.2,145.1 1663.7,157.3 1680.2,154.0 1696.7,144.3 1713.2,151.8 1729.7,154.6 1746.2,149.3 1762.7,153.1 1779.2,151.3 1795.7,154.6 1812.2,151.0 1828.7,147.3 1845.2,138.1 1861.7,139.6 1878.2,150.1 1894.7,139.8 1911.2,153.5 1927.7,154.5 1944.2,140.1 1960.7,159.0 1977.2,139.8 1993.7,138.3 2010.2,150.1 2026.7,140.1 2043.2,146.0 2059.7,151.5 2076.2,148.1 2092.7,133.4 2109.2,148.1 2125.7,134.6 2142.2,149.3 2158.7,137.9 2175.2,148.5 2191.7,139.6 2208.2,154.0 2224.7,154.0 2241.2,153.1 2257.7,149.6 2274.2,155.2 2290.7,135.4 2307.2,137.6 2323.7,137.3 2340.2,156.0 2356.7,152.6 2373.2,142.1 2374,141" fill="none" stroke="#23803a" stroke-width="1.6" stroke-linejoin="round"/>
</svg><div class="a" style="right:22px;top:76px;font-size:16.1px;line-height:18px;color:#8a949b"><span style="color:#e8161c">Reaction Step Average Deviation 3x</span>, <span style="color:#e8161c">Reaction Step Average Deviation −3x</span>, <span style="color:#0a8a46">Reaction Step Average</span></div>
<svg style="left:460px;top:909px" width="13" height="17.5" viewBox="0 0 13 17.5" ><g><path d="M6.5 0 V13" stroke="#007960" stroke-width="3"/><path d="M0 9.5 L6.5 17.5 L13 9.5 L11 7.8 L6.5 13 L2 7.8 Z" fill="#007960"/></g></svg>
<div class="a" style="left:482.6px;top:910.6px;font-size:13.45px;line-height:13.45px;color:#007960;font-weight:normal;">2/8/2022 12:47 PM</div>
<div class="a" style="left:603px;top:911.3px;font-size:12.6px;line-height:12.6px;color:#007960;font-weight:normal;letter-spacing:-0.4px"><span class="lnk">EST</span></div>
<div class="a" style="right:46px;top:910.5px;font-size:13.45px;line-height:13.45px;color:#007960;font-weight:normal;">2/15/2022 12:47 PM</div>
<div class="a" style="right:16px;top:911.2px;font-size:12.6px;line-height:12.6px;color:#007960;font-weight:normal;letter-spacing:-0.4px"><span class="lnk">EST</span></div>
<svg style="left:1276.5px;top:909.6px" width="19" height="17.4" viewBox="0 0 19 17.4" ><path d="M9.5 0 V17.4 L0 8.7 Z M19 0 V17.4 L9.5 8.7 Z" fill="#007960"/></svg>
<svg style="left:1313.6px;top:909.6px" width="10" height="17.4" viewBox="0 0 10 17.4" ><path d="M10 0 V17.4 L0 8.7 Z" fill="#007960"/></svg>
<div class="a" style="left:1341px;top:910.8px;font-size:13.3px;line-height:13.3px;color:#007960;font-weight:normal;">7 days</div>
<svg style="left:1398.1px;top:909.6px" width="10" height="17.4" viewBox="0 0 10 17.4" ><path d="M0 0 V17.4 L10 8.7 Z" fill="#007960"/></svg>
<svg style="left:1426.2px;top:909.6px" width="19" height="17.4" viewBox="0 0 19 17.4" ><path d="M0 0 V17.4 L9.5 8.7 Z M9.5 0 V17.4 L19 8.7 Z" fill="#007960"/></svg>
<svg style="left:1462.1px;top:909.6px" width="12" height="17.4" viewBox="0 0 12 17.4" ><path d="M0 0 V17.4 L9.5 8.7 Z M9.3 0 H12 V17.4 H9.3 Z" fill="#007960"/></svg>
<svg style="left:1493px;top:911.4px" width="12.5" height="12.5" viewBox="0 0 12.5 12.5" ><path d="M1.2 5.2 A5.2 5.2 0 0 1 10.2 2.6 M11.3 7.300 A5.2 5.2 0 0 1 2.300 9.900" fill="none" stroke="#007960" stroke-width="1.9"/><path d="M12.300 0.300 V5 H7.600 Z M0.200 12.200 V7.500 H4.900 Z" fill="#007960"/></svg>
<div class="a" style="left:450px;top:934px;width:1942px;height:81px;background:#f5f5f5;border-top:1px solid #dcdcdc"></div>
<div class="a" style="left:2030px;top:946px;width:317px;height:17.5px;border:2px solid #cbcbcb;border-radius:4px;background:#f5f5f5"></div>
<div class="a" style="left:478px;top:945.5px;width:1557px;height:18.5px;border-top:2px solid #007960;border-bottom:2px solid #007960;background:#fff"></div>
<div class="a" style="left:475px;top:944px;width:6.6px;height:21.6px;border:2px solid #007960;background:#fff;border-radius:1px"></div>
<div class="a" style="left:2031px;top:944px;width:6.6px;height:21.6px;border:2px solid #007960;background:#fff;border-radius:1px"></div>
<svg style="left:2359.4px;top:948px" width="15" height="18" viewBox="0 0 13.5 16" ><rect x="0" y="0" width="6.1" height="16" fill="#007960"/><rect x="7.3" y="0" width="6.2" height="16" fill="#007960"/><polyline points="0.2,10.500 3.100,1.800 5.500,14.200" fill="none" stroke="#fff" stroke-width="1.250" stroke-linejoin="round"/><polyline points="7.400,10.500 10.300,1.800 12.700,14.200" fill="none" stroke="#fff" stroke-width="1.250" stroke-linejoin="round"/></svg>
<div class="a" style="left:503.4px;top:964px;width:1px;height:4px;background:#ccd6eb"></div>
<div class="slab" style="left:475.0px;top:971.1px">12:00 pm</div>
<div class="a" style="left:610.2px;top:964px;width:1px;height:4px;background:#ccd6eb"></div>
<div class="slab" style="left:565.7px;top:971.1px">Feb 9</div>
<div class="a" style="left:717.0px;top:964px;width:1px;height:4px;background:#ccd6eb"></div>
<div class="slab" style="left:672.5px;top:971.1px">12:00 pm</div>
<div class="a" style="left:823.8px;top:964px;width:1px;height:4px;background:#ccd6eb"></div>
<div class="slab" style="left:779.3px;top:971.1px">Feb 10</div>
<div class="a" style="left:930.6px;top:964px;width:1px;height:4px;background:#ccd6eb"></div>
<div class="slab" style="left:886.1px;top:971.1px">12:00 pm</div>
<div class="a" style="left:1037.4px;top:964px;width:1px;height:4px;background:#ccd6eb"></div>
<div class="slab" style="left:992.9px;top:971.1px">Feb 11</div>
<div class="a" style="left:1144.2px;top:964px;width:1px;height:4px;background:#ccd6eb"></div>
<div class="slab" style="left:1099.7px;top:971.1px">12:00 pm</div>
<div class="a" style="left:1251.0px;top:964px;width:1px;height:4px;background:#ccd6eb"></div>
<div class="slab" style="left:1206.5px;top:971.1px">Feb 12</div>
<div class="a" style="left:1357.8px;top:964px;width:1px;height:4px;background:#ccd6eb"></div>
<div class="slab" style="left:1313.3px;top:971.1px">12:00 pm</div>
<div class="a" style="left:1464.6px;top:964px;width:1px;height:4px;background:#ccd6eb"></div>
<div class="slab" style="left:1420.1px;top:971.1px">Feb 13</div>
<div class="a" style="left:1571.4px;top:964px;width:1px;height:4px;background:#ccd6eb"></div>
<div class="slab" style="left:1526.9px;top:971.1px">12:00 pm</div>
<div class="a" style="left:1678.2px;top:964px;width:1px;height:4px;background:#ccd6eb"></div>
<div class="slab" style="left:1633.7px;top:971.1px">Feb 14</div>
<div class="a" style="left:1785.0px;top:964px;width:1px;height:4px;background:#ccd6eb"></div>
<div class="slab" style="left:1740.5px;top:971.1px">12:00 pm</div>
<div class="a" style="left:1891.8px;top:964px;width:1px;height:4px;background:#ccd6eb"></div>
<div class="slab" style="left:1847.3px;top:971.1px">Feb 15</div>
<div class="a" style="left:1998.6px;top:964px;width:1px;height:4px;background:#ccd6eb"></div>
<div class="slab" style="left:1954.1px;top:971.1px">12:00 pm</div>
<div class="a" style="left:2105.4px;top:964px;width:1px;height:4px;background:#ccd6eb"></div>
<div class="slab" style="left:2060.9px;top:971.1px">Feb 16</div>
<div class="a" style="left:2212.2px;top:964px;width:1px;height:4px;background:#ccd6eb"></div>
<div class="slab" style="left:2167.7px;top:971.1px">12:00 pm</div>
<div class="a" style="left:2319.0px;top:964px;width:1px;height:4px;background:#ccd6eb"></div>
<div class="slab" style="left:2271.7px;top:971.1px">Feb 17</div>
<svg style="left:460px;top:989.5px" width="13" height="17.5" viewBox="0 0 13 17.5" ><g transform="rotate(180 6.5 8.75)"><path d="M6.5 0 V13" stroke="#007960" stroke-width="3"/><path d="M0 9.5 L6.5 17.5 L13 9.5 L11 7.8 L6.5 13 L2 7.8 Z" fill="#007960"/></g></svg>
<div class="a" style="left:482.6px;top:994.9px;font-size:14px;line-height:14px;color:#007960;font-weight:normal;">2/8/2022</div>
<div class="a" style="left:1404.4px;top:993.7px;font-size:13px;line-height:13px;color:#007960;font-weight:normal;letter-spacing:-0.2px">8.5 days</div>
<div class="a" style="right:20px;top:995.4px;font-size:14px;line-height:14px;color:#007960;font-weight:normal;">2/16/2022</div>
<div class="a" style="left:450px;top:1015px;width:1500px;height:33px;background:#007960"></div>
<svg style="left:462px;top:1024.5px" width="19" height="14" viewBox="0 0 19 15" ><path d="M1 0.5 V14 H18.5" fill="none" stroke="#fff" stroke-width="1.6"/><path d="M3 12.5 V8 L6.5 3 L10.5 6.5 L13.5 3.5 L17 8.5 V12.5 Z" fill="#fff"/></svg>
<div class="a" style="left:487.6px;top:1024.1px;font-size:15px;line-height:15px;color:#fff;font-weight:normal;">Details</div>
<div class="a" style="left:1840.6px;top:1018.4px;width:103px;height:26.2px;background:#fff;border-radius:4px;border:1px solid #d8d8d8"></div>
<svg style="left:1848.2px;top:1024px" width="16" height="15.2" viewBox="0 0 16 15.2" ><circle cx="5.3" cy="8" r="3.82" fill="#333"/><rect x="4.13" y="2.70" width="2.33" height="10.60" fill="#333" transform="rotate(0.0 5.3 8)"/><rect x="4.13" y="2.70" width="2.33" height="10.60" fill="#333" transform="rotate(45.0 5.3 8)"/><rect x="4.13" y="2.70" width="2.33" height="10.60" fill="#333" transform="rotate(90.0 5.3 8)"/><rect x="4.13" y="2.70" width="2.33" height="10.60" fill="#333" transform="rotate(135.0 5.3 8)"/><circle cx="5.3" cy="8" r="2.23" fill="#fff"/><circle cx="12.6" cy="3.4" r="2.30" fill="#333"/><rect x="11.90" y="0.20" width="1.41" height="6.40" fill="#333" transform="rotate(0.0 12.6 3.4)"/><rect x="11.90" y="0.20" width="1.41" height="6.40" fill="#333" transform="rotate(45.0 12.6 3.4)"/><rect x="11.90" y="0.20" width="1.41" height="6.40" fill="#333" transform="rotate(90.0 12.6 3.4)"/><rect x="11.90" y="0.20" width="1.41" height="6.40" fill="#333" transform="rotate(135.0 12.6 3.4)"/><circle cx="12.6" cy="3.4" r="1.20" fill="#fff"/><circle cx="12.6" cy="12" r="2.30" fill="#333"/><rect x="11.90" y="8.80" width="1.41" height="6.40" fill="#333" transform="rotate(0.0 12.6 12)"/><rect x="11.90" y="8.80" width="1.41" height="6.40" fill="#333" transform="rotate(45.0 12.6 12)"/><rect x="11.90" y="8.80" width="1.41" height="6.40" fill="#333" transform="rotate(90.0 12.6 12)"/><rect x="11.90" y="8.80" width="1.41" height="6.40" fill="#333" transform="rotate(135.0 12.6 12)"/><circle cx="12.6" cy="12" r="1.20" fill="#fff"/></svg>
<div class="a" style="left:1871.7px;top:1025.4px;font-size:13.8px;line-height:13.8px;color:#333;font-weight:normal;">Customize</div>
<div class="a" style="left:450px;top:1048px;width:1489px;height:32px;background:#fff"></div>
<div class="a" style="left:450px;top:1080px;width:1489px;height:14.5px;background:#f9f9f9;overflow:hidden" id="prow"><div class="a" style="left:170.6px;top:-6.7px;font-size:15px;line-height:15px;color:#3a3a3a;font-weight:normal;letter-spacing:0.3px">g/L</div><div class="a" style="left:200.7px;top:-6.5px;font-size:14.76px;line-height:14.76px;color:#222;font-weight:bold;">Solution Concentration</div><div class="a" style="left:1117.2px;top:-7.9px;font-size:14.36px;line-height:14.36px;color:#007960;font-weight:normal;"><span class="lnk">Reactor 1</span></div><div class="a" style="left:1370px;top:-8.0px;font-size:14.5px;line-height:14.5px;color:#333;font-weight:normal;">2</div><svg style="left:5px;top:-8px" width="14" height="14" viewBox="0 0 14 14" ><path d="M10 0.8 L13.2 4 L11.6 5.6 L8.4 2.4 Z M7.6 3.2 L10.8 6.4 L4.2 13 L0.8 13.2 L1 9.8 Z" fill="#007960"/><path d="M2.2 10 L4 11.8" stroke="#fff" stroke-width="0.8"/></svg><svg style="left:35.9px;top:-8px" width="15" height="15" viewBox="0 0 15 15" ><path d="M14.5 0.5 C10 0.5 7.5 2.5 5.5 5.5 L2 5.8 L0.3 8.6 L3.6 8.4 L6.6 11.4 L6.4 14.7 L9.2 13 L9.5 9.5 C12.5 7.5 14.5 5 14.5 0.5 Z M3.8 10.2 C2.3 10.6 1.5 12.2 1.6 13.4 C2.8 13.5 4.4 12.7 4.8 11.2 Z" fill="#007960"/><circle cx="10.6" cy="4.4" r="1.2" fill="#fff"/></svg><svg style="left:66.5px;top:-8.4px" width="14" height="14" viewBox="0 0 14 14" ><circle cx="7" cy="7" r="7" fill="#007960"/><rect x="5.9" y="2.3" width="2.4" height="2.4" fill="#fff"/><path d="M5 6 H8.3 V10.2 H9.3 V11.6 H4.8 V10.2 H5.9 V7.4 H5 Z" fill="#fff"/></svg><svg style="left:91.5px;top:-6px" width="10.8" height="9.72" viewBox="0 0 11 10" ><path d="M1.700 1.600 L9.300 8.400 M9.300 1.600 L1.700 8.400" stroke="#007960" stroke-width="3.1" stroke-linecap="round"/></svg><svg style="left:115.6px;top:-8.6px" width="13.5" height="13.5" viewBox="0 0 13 13" ><rect x="0.75" y="0.75" width="11.5" height="11.5" rx="2.5" fill="#fff" stroke="#555" stroke-width="1.4"/></svg><svg style="left:140.5px;top:-11px" width="19" height="16" viewBox="0 0 17 15" ><polyline points="1,9 3.5,1.5 7,12 9.5,4.5 12.5,13.5 14.5,8.5 16,10.5" fill="none" stroke="#b48cb4" stroke-width="1.8" stroke-linejoin="round" stroke-linecap="round"/></svg></div>
<svg style="left:541.5px;top:1061.8px" width="10.8" height="9.72" viewBox="0 0 11 10" ><path d="M1.700 1.600 L9.300 8.400 M9.300 1.600 L1.700 8.400" stroke="#007960" stroke-width="3.1" stroke-linecap="round"/></svg>
<svg style="left:565.4px;top:1059.4px" width="13.8" height="13.8" viewBox="0 0 14 14" ><rect x="0" y="0" width="14" height="14" rx="2.2" fill="#333"/><polyline points="3,7.2 5.8,10 11,4" fill="none" stroke="#fff" stroke-width="2.2"/></svg>
<svg style="left:626.2px;top:1060.2px" width="10" height="13" viewBox="0 0 10 13" ><path d="M5 0.5 L9.5 5.3 H0.5 Z M5 12.5 L0.5 7.7 H9.5 Z" fill="#666"/></svg>
<div class="a" style="left:650.7px;top:1059.3px;font-size:15px;line-height:15px;color:#222;font-weight:bold;">Name</div>
<svg style="left:697.8px;top:1060.2px" width="10" height="13" viewBox="0 0 10 13" ><path d="M5 0.5 L9.5 5.3 H0.5 Z M5 12.5 L0.5 7.7 H9.5 Z" fill="#666"/></svg>
<div class="a" style="left:1567.2px;top:1059.6px;font-size:13.9px;line-height:13.9px;color:#222;font-weight:bold;">Assets</div>
<div class="a" style="left:1778.3px;top:1058.9px;font-size:14.8px;line-height:14.8px;color:#007960;font-weight:bold;">Lane</div>
<svg style="left:1818.5px;top:1060px" width="10" height="6" viewBox="0 0 10 6" ><path d="M5 0.5 L9.8 5.5 H0.2 Z" fill="#007960"/></svg>
<svg style="left:1907.4px;top:1053px" width="21.5" height="17.5" viewBox="0 0 21.5 17.5" ><g opacity="1"><rect x="0.5" y="0.5" width="18" height="14" fill="#fff" stroke="#555" stroke-width="0.9"/><rect x="9.5" y="0.5" width="9" height="14" fill="#d2d2d2" stroke="#555" stroke-width="0.9"/><path d="M0.5 5.2 H9.5 M0.5 9.8 H9.5" stroke="#555" stroke-width="0.9"/><circle cx="17.5" cy="13.5" r="3.8" fill="#222"/><path d="M17.5 11.300 V15.700 M15.300 13.500 H19.700" stroke="#fff" stroke-width="1.2"/></g></svg>
<div class="a" style="left:450px;top:1093.8px;width:1489px;height:29.5px;background:#fcf6e4;border-top:1.5px solid #dcdfe4"></div>
<svg style="left:455px;top:1101.8px" width="14" height="14" viewBox="0 0 14 14" ><path d="M10 0.8 L13.2 4 L11.6 5.6 L8.4 2.4 Z M7.6 3.2 L10.8 6.4 L4.2 13 L0.8 13.2 L1 9.8 Z" fill="#007960"/><path d="M2.2 10 L4 11.8" stroke="#fff" stroke-width="0.8"/></svg>
<svg style="left:485.9px;top:1101.8px" width="15" height="15" viewBox="0 0 15 15" ><path d="M14.5 0.5 C10 0.5 7.5 2.5 5.5 5.5 L2 5.8 L0.3 8.6 L3.6 8.4 L6.6 11.4 L6.4 14.7 L9.2 13 L9.5 9.5 C12.5 7.5 14.5 5 14.5 0.5 Z M3.8 10.2 C2.3 10.6 1.5 12.2 1.6 13.4 C2.8 13.5 4.4 12.7 4.8 11.2 Z" fill="#007960"/><circle cx="10.6" cy="4.4" r="1.2" fill="#fff"/></svg>
<svg style="left:516.5px;top:1101.8px" width="13.8" height="13.8" viewBox="0 0 14 14" ><circle cx="7" cy="7" r="7" fill="#007960"/><rect x="5.9" y="2.3" width="2.4" height="2.4" fill="#fff"/><path d="M5 6 H8.3 V10.2 H9.3 V11.6 H4.8 V10.2 H5.9 V7.4 H5 Z" fill="#fff"/></svg>
<svg style="left:541.5px;top:1104.4px" width="10.8" height="9.72" viewBox="0 0 11 10" ><path d="M1.700 1.600 L9.300 8.400 M9.300 1.600 L1.700 8.400" stroke="#007960" stroke-width="3.1" stroke-linecap="round"/></svg>
<svg style="left:565.4px;top:1101.8px" width="13.8" height="13.8" viewBox="0 0 14 14" ><rect x="0" y="0" width="14" height="14" rx="2.2" fill="#333"/><polyline points="3,7.2 5.8,10 11,4" fill="none" stroke="#fff" stroke-width="2.2"/></svg>
<svg style="left:590.3px;top:1097.4px" width="19" height="18" viewBox="0 0 17 15" ><polyline points="1,9 3.5,1.5 7,12 9.5,4.5 12.5,13.5 14.5,8.5 16,10.5" fill="none" stroke="#ff0000" stroke-width="1.8" stroke-linejoin="round" stroke-linecap="round"/></svg>
<div class="a" style="left:620.6px;top:1101.3px;font-size:15px;line-height:15px;color:#3a3a3a;font-weight:normal;letter-spacing:0.3px">g/L</div>
<div class="a" style="left:650.7px;top:1101.5px;font-size:14.76px;line-height:14.76px;color:#222;font-weight:bold;">Reaction Step Average Deviation 3x</div>
<div class="a" style="left:1567.2px;top:1102.1px;font-size:14.36px;line-height:14.36px;color:#007960;font-weight:normal;"><span class="lnk">Reactor 1</span>, <span class="lnk">Reactor 2</span>, <span class="lnk">Reactor 3</span></div>
<div class="a" style="left:1820px;top:1102.0px;font-size:14.5px;line-height:14.5px;color:#333;font-weight:normal;">3</div>
<div class="a" style="left:450px;top:1123.25px;width:1489px;height:29.5px;background:#fcf6e4;border-top:1.5px solid #dcdfe4"></div>
<svg style="left:455px;top:1131.3999999999999px" width="14" height="14" viewBox="0 0 14 14" ><path d="M10 0.8 L13.2 4 L11.6 5.6 L8.4 2.4 Z M7.6 3.2 L10.8 6.4 L4.2 13 L0.8 13.2 L1 9.8 Z" fill="#007960"/><path d="M2.2 10 L4 11.8" stroke="#fff" stroke-width="0.8"/></svg>
<svg style="left:485.9px;top:1131.3999999999999px" width="15" height="15" viewBox="0 0 15 15" ><path d="M14.5 0.5 C10 0.5 7.5 2.5 5.5 5.5 L2 5.8 L0.3 8.6 L3.6 8.4 L6.6 11.4 L6.4 14.7 L9.2 13 L9.5 9.5 C12.5 7.5 14.5 5 14.5 0.5 Z M3.8 10.2 C2.3 10.6 1.5 12.2 1.6 13.4 C2.8 13.5 4.4 12.7 4.8 11.2 Z" fill="#007960"/><circle cx="10.6" cy="4.4" r="1.2" fill="#fff"/></svg>
<svg style="left:516.5px;top:1131.3999999999999px" width="13.8" height="13.8" viewBox="0 0 14 14" ><circle cx="7" cy="7" r="7" fill="#007960"/><rect x="5.9" y="2.3" width="2.4" height="2.4" fill="#fff"/><path d="M5 6 H8.3 V10.2 H9.3 V11.6 H4.8 V10.2 H5.9 V7.4 H5 Z" fill="#fff"/></svg>
<svg style="left:541.5px;top:1134.0px" width="10.8" height="9.72" viewBox="0 0 11 10" ><path d="M1.700 1.600 L9.300 8.400 M9.300 1.600 L1.700 8.400" stroke="#007960" stroke-width="3.1" stroke-linecap="round"/></svg>
<svg style="left:565.4px;top:1131.3999999999999px" width="13.8" height="13.8" viewBox="0 0 14 14" ><rect x="0" y="0" width="14" height="14" rx="2.2" fill="#333"/><polyline points="3,7.2 5.8,10 11,4" fill="none" stroke="#fff" stroke-width="2.2"/></svg>
<svg style="left:590.3px;top:1127.0px" width="19" height="18" viewBox="0 0 17 15" ><polyline points="1,9 3.5,1.5 7,12 9.5,4.5 12.5,13.5 14.5,8.5 16,10.5" fill="none" stroke="#ff0000" stroke-width="1.8" stroke-linejoin="round" stroke-linecap="round"/></svg>
<div class="a" style="left:620.6px;top:1130.9px;font-size:15px;line-height:15px;color:#3a3a3a;font-weight:normal;letter-spacing:0.3px">g/L</div>
<div class="a" style="left:650.7px;top:1131.1px;font-size:14.76px;line-height:14.76px;color:#222;font-weight:bold;">Reaction Step Average Deviation -3x</div>
<div class="a" style="left:1567.2px;top:1131.7px;font-size:14.36px;line-height:14.36px;color:#007960;font-weight:normal;"><span class="lnk">Reactor 1</span>, <span class="lnk">Reactor 2</span>, <span class="lnk">Reactor 3</span></div>
<div class="a" style="left:1820px;top:1131.6px;font-size:14.5px;line-height:14.5px;color:#333;font-weight:normal;">3</div>
<div class="a" style="left:450px;top:1152.7px;width:1489px;height:29.5px;background:#fcf6e4;border-top:1.5px solid #dcdfe4"></div>
<svg style="left:455px;top:1161.0px" width="14" height="14" viewBox="0 0 14 14" ><path d="M10 0.8 L13.2 4 L11.6 5.6 L8.4 2.4 Z M7.6 3.2 L10.8 6.4 L4.2 13 L0.8 13.2 L1 9.8 Z" fill="#007960"/><path d="M2.2 10 L4 11.8" stroke="#fff" stroke-width="0.8"/></svg>
<svg style="left:485.9px;top:1161.0px" width="15" height="15" viewBox="0 0 15 15" ><path d="M14.5 0.5 C10 0.5 7.5 2.5 5.5 5.5 L2 5.8 L0.3 8.6 L3.6 8.4 L6.6 11.4 L6.4 14.7 L9.2 13 L9.5 9.5 C12.5 7.5 14.5 5 14.5 0.5 Z M3.8 10.2 C2.3 10.6 1.5 12.2 1.6 13.4 C2.8 13.5 4.4 12.7 4.8 11.2 Z" fill="#007960"/><circle cx="10.6" cy="4.4" r="1.2" fill="#fff"/></svg>
<svg style="left:516.5px;top:1161.0px" width="13.8" height="13.8" viewBox="0 0 14 14" ><circle cx="7" cy="7" r="7" fill="#007960"/><rect x="5.9" y="2.3" width="2.4" height="2.4" fill="#fff"/><path d="M5 6 H8.3 V10.2 H9.3 V11.6 H4.8 V10.2 H5.9 V7.4 H5 Z" fill="#fff"/></svg>
<svg style="left:541.5px;top:1163.6000000000001px" width="10.8" height="9.72" viewBox="0 0 11 10" ><path d="M1.700 1.600 L9.300 8.400 M9.300 1.600 L1.700 8.400" stroke="#007960" stroke-width="3.1" stroke-linecap="round"/></svg>
<svg style="left:565.4px;top:1161.0px" width="13.8" height="13.8" viewBox="0 0 14 14" ><rect x="0" y="0" width="14" height="14" rx="2.2" fill="#333"/><polyline points="3,7.2 5.8,10 11,4" fill="none" stroke="#fff" stroke-width="2.2"/></svg>
<svg style="left:590.3px;top:1156.6000000000001px" width="19" height="18" viewBox="0 0 17 15" ><polyline points="1,9 3.5,1.5 7,12 9.5,4.5 12.5,13.5 14.5,8.5 16,10.5" fill="none" stroke="#06803f" stroke-width="1.8" stroke-linejoin="round" stroke-linecap="round"/></svg>
<div class="a" style="left:620.6px;top:1160.5px;font-size:15px;line-height:15px;color:#3a3a3a;font-weight:normal;letter-spacing:0.3px">g/L</div>
<div class="a" style="left:650.7px;top:1160.7px;font-size:14.76px;line-height:14.76px;color:#222;font-weight:bold;">Reaction Step Average</div>
<div class="a" style="left:1567.2px;top:1161.3px;font-size:14.36px;line-height:14.36px;color:#007960;font-weight:normal;"><span class="lnk">Reactor 1</span>, <span class="lnk">Reactor 2</span>, <span class="lnk">Reactor 3</span></div>
<div class="a" style="left:1820px;top:1161.2px;font-size:14.5px;line-height:14.5px;color:#333;font-weight:normal;">3</div>
<div class="a" style="left:450px;top:1183px;width:1489px;height:1.5px;background:#dcdfe4"></div>
<div class="a" style="left:1939px;top:1048px;width:11px;height:140px;background:#e2e2e2;border-radius:6px 6px 0 0"></div>
<div class="a" style="left:1939.5px;top:1102px;width:10px;height:65px;background:#b2b2b2;border-radius:5px"></div>
<div class="a" style="left:1950px;top:1015px;width:10px;height:169px;background:#f5f5f5"></div>
<div class="a" style="left:1952.6px;top:1105.3px;width:1.4px;height:9px;background:#777"></div><div class="a" style="left:1954.8px;top:1105.3px;width:1.4px;height:9px;background:#777"></div><div class="a" style="left:1957px;top:1105.3px;width:1.4px;height:9px;background:#777"></div>
<div class="a" style="left:1960px;top:1015px;width:432px;height:33px;background:#007960"></div>
<div class="a" style="left:1960px;top:1048px;width:432px;height:124px;background:#fff"></div>
<svg style="left:1975px;top:1020.4px" width="13" height="18" viewBox="0 0 11 17" ><path d="M3 1 H1 V16 H3 M8 1 H10 V16 H8" fill="none" stroke="#fff" stroke-width="1.9"/><polyline points="2.700,3.600 3.900,12.600 5.500,5.600 7.100,12.600 8.300,3.600" fill="none" stroke="#fff" stroke-width="1.300" stroke-linejoin="round"/></svg>
<div class="a" style="left:1996.7px;top:1025.3px;font-size:14.6px;line-height:14.6px;color:#fff;font-weight:normal;">Capsules</div>
<div class="a" style="left:2334.4px;top:1018.5px;width:54.4px;height:26px;background:#fff;border-radius:4px"></div>
<div class="a" style="left:2362px;top:1019px;width:1px;height:25px;background:#d0d0d0"></div>
<svg style="left:2341.5px;top:1024.7px" width="14.5" height="13.5" viewBox="0 0 14.5 13.5" ><circle cx="5.6" cy="5.6" r="4.6" fill="none" stroke="#222" stroke-width="1.8"/><path d="M9 9 L13.300 12.600" stroke="#222" stroke-width="2.4" stroke-linecap="round"/><path d="M5.600 3.300 V7.900 M3.300 5.600 H7.900" stroke="#222" stroke-width="1.2"/></svg>
<svg style="left:2369.3px;top:1024.2px" width="12" height="12" viewBox="0 0 12 12" ><rect x="0.6" y="0.6" width="10.8" height="10.8" rx="2" fill="none" stroke="#333" stroke-width="1.2"/><path d="M3 6 H9" stroke="#333" stroke-width="1.3"/></svg>
<svg style="left:1968px;top:1064.6px" width="12.4" height="12.4" viewBox="0 0 13 13" ><rect x="0.75" y="0.75" width="11.5" height="11.5" rx="2.5" fill="#fff" stroke="#555" stroke-width="1.4"/></svg>
<div class="a" style="left:2022.8px;top:1063.6px;font-size:15.2px;line-height:15.2px;color:#222;font-weight:bold;">Start</div>
<svg style="left:2063.6px;top:1065px" width="10" height="13" viewBox="0 0 10 13" ><path d="M5 0.5 L9.5 5.3 H0.5 Z M5 12.5 L0.5 7.7 H9.5 Z" fill="#666"/></svg>
<div class="a" style="left:2177.7px;top:1063.7px;font-size:15.1px;line-height:15.1px;color:#007960;font-weight:bold;">Duration</div>
<svg style="left:2246.3px;top:1065px" width="10" height="6" viewBox="0 0 10 6" ><path d="M5 0.5 L9.8 5.5 H0.2 Z" fill="#007960"/></svg>
<svg style="left:2277px;top:1058.2px" width="21.5" height="17.5" viewBox="0 0 21.5 17.5" ><g opacity="1"><rect x="0.5" y="0.5" width="18" height="14" fill="#fff" stroke="#555" stroke-width="0.9"/><rect x="9.5" y="0.5" width="9" height="14" fill="#d2d2d2" stroke="#555" stroke-width="0.9"/><path d="M0.5 5.2 H9.5 M0.5 9.8 H9.5" stroke="#555" stroke-width="0.9"/><circle cx="17.5" cy="13.5" r="3.8" fill="#222"/><path d="M17.5 11.300 V15.700 M15.300 13.500 H19.700" stroke="#fff" stroke-width="1.2"/></g></svg>
<div class="a" style="left:2305px;top:1052.5px;width:1px;height:30px;background:#dcdcdc"></div>
<svg style="left:2329.8px;top:1058.2px" width="21.5" height="17.5" viewBox="0 0 21.5 17.5" ><g opacity="0.9"><rect x="0.5" y="0.5" width="18" height="14" fill="#fff" stroke="#b9a6c4" stroke-width="0.9"/><rect x="9.5" y="0.5" width="9" height="14" fill="#d2d2d2" stroke="#b9a6c4" stroke-width="0.9"/><path d="M0.5 5.2 H9.5 M0.5 9.8 H9.5" stroke="#b9a6c4" stroke-width="0.9"/><circle cx="17.5" cy="13.5" r="3.8" fill="#b394c4"/><path d="M17.5 11.300 V15.700 M15.300 13.500 H19.700" stroke="#fff" stroke-width="1.2"/></g></svg>
<div class="a" style="left:2372.7px;top:1058.2px;width:12px;height:18px;overflow:hidden"><svg style="left:0px;top:0px" width="21.5" height="17.5" viewBox="0 0 21.5 17.5" ><g opacity="1"><rect x="0.5" y="0.5" width="18" height="14" fill="#fff" stroke="#7fb2e5" stroke-width="0.9"/><rect x="9.5" y="0.5" width="9" height="14" fill="#d2d2d2" stroke="#7fb2e5" stroke-width="0.9"/><path d="M0.5 5.2 H9.5 M0.5 9.8 H9.5" stroke="#7fb2e5" stroke-width="0.9"/><circle cx="17.5" cy="13.5" r="3.8" fill="#7fb2e5"/><path d="M17.5 11.300 V15.700 M15.300 13.500 H19.700" stroke="#fff" stroke-width="1.2"/></g></svg></div>
<div class="a" style="left:1960px;top:1086.2px;width:424px;height:1.5px;background:#dcdfe4"></div>
<div class="a" style="left:1960px;top:1087.5px;width:424px;height:29.5px;background:#f9f9f9;border-bottom:1.5px solid #dcdfe4;overflow:hidden"><svg style="left:8px;top:8.499999999999954px" width="12.4" height="12.4" viewBox="0 0 13 13" ><rect x="0.75" y="0.75" width="11.5" height="11.5" rx="2.5" fill="#fff" stroke="#555" stroke-width="1.4"/></svg><svg style="left:39px;top:3.7999999999999545px" width="12.2" height="17.4" viewBox="0 0 11 17" ><path d="M3 1 H1 V16 H3 M8 1 H10 V16 H8" fill="none" stroke="#0a8a50" stroke-width="1.9"/><polyline points="2.700,3.600 3.900,12.600 5.500,5.600 7.100,12.600 8.300,3.600" fill="none" stroke="#0a8a50" stroke-width="1.300" stroke-linejoin="round"/></svg><div class="a" style="left:63px;top:8.8px;font-size:14.2px;line-height:14.2px;color:#3a3a3a;font-weight:normal;">Feb 11, 2022 11:24 AM</div><div class="a" style="left:217.7px;top:8.7px;font-size:14.3px;line-height:14.3px;color:#3a3a3a;font-weight:normal;letter-spacing:0.15px">04:50:00.000</div></div>
<div class="a" style="left:1960px;top:1117.0px;width:424px;height:29.5px;background:#fff;border-bottom:1.5px solid #dcdfe4;overflow:hidden"><svg style="left:8px;top:7.900000000000045px" width="12.4" height="12.4" viewBox="0 0 13 13" ><rect x="0.75" y="0.75" width="11.5" height="11.5" rx="2.5" fill="#fff" stroke="#555" stroke-width="1.4"/></svg><svg style="left:39px;top:3.2000000000000455px" width="12.2" height="17.4" viewBox="0 0 11 17" ><path d="M3 1 H1 V16 H3 M8 1 H10 V16 H8" fill="none" stroke="#0a8a50" stroke-width="1.9"/><polyline points="2.700,3.600 3.900,12.600 5.500,5.600 7.100,12.600 8.300,3.600" fill="none" stroke="#0a8a50" stroke-width="1.300" stroke-linejoin="round"/></svg><div class="a" style="left:63px;top:8.2px;font-size:14.2px;line-height:14.2px;color:#3a3a3a;font-weight:normal;">Feb 9, 2022 7:10 AM</div><div class="a" style="left:217.7px;top:8.1px;font-size:14.3px;line-height:14.3px;color:#3a3a3a;font-weight:normal;letter-spacing:0.15px">05:18:00.000</div></div>
<div class="a" style="left:1960px;top:1146.5px;width:424px;height:15px;background:#f9f9f9;border-bottom:1.5px solid #dcdfe4;overflow:hidden"><svg style="left:8px;top:7.299999999999908px" width="12.4" height="12.4" viewBox="0 0 13 13" ><rect x="0.75" y="0.75" width="11.5" height="11.5" rx="2.5" fill="#fff" stroke="#555" stroke-width="1.4"/></svg><svg style="left:39px;top:2.599999999999909px" width="12.2" height="17.4" viewBox="0 0 11 17" ><path d="M3 1 H1 V16 H3 M8 1 H10 V16 H8" fill="none" stroke="#0a8a50" stroke-width="1.9"/><polyline points="2.700,3.600 3.900,12.600 5.500,5.600 7.100,12.600 8.300,3.600" fill="none" stroke="#0a8a50" stroke-width="1.300" stroke-linejoin="round"/></svg><div class="a" style="left:63px;top:7.6px;font-size:14.2px;line-height:14.2px;color:#3a3a3a;font-weight:normal;">Feb 10, 2022 8:22 AM</div><div class="a" style="left:217.7px;top:7.5px;font-size:14.3px;line-height:14.3px;color:#3a3a3a;font-weight:normal;letter-spacing:0.15px">05:34:00.000</div></div>
<div class="a" style="left:2384px;top:1048px;width:9px;height:112px;background:#e2e2e2;border-radius:5px"></div>
<div class="a" style="left:2384px;top:1048.5px;width:9px;height:59px;background:#c1c1c1;border-radius:5px"></div>
<div class="a" style="left:1960px;top:1160px;width:432px;height:12px;background:#fff"></div>
<div class="a" style="left:1960px;top:1161.2px;width:424px;height:9.8px;background:#e2e2e2;border-radius:5px"></div>
<div class="a" style="left:1960px;top:1161.2px;width:256px;height:9.8px;background:#b2b2b2;border-radius:5px"></div>
<div class="a" style="left:1960px;top:1171.5px;width:432px;height:13px;background:#f8f8f8;border-top:1px solid #dcdcdc"></div>
<div class="a" style="left:2009.5px;top:1175.3px;width:62px;height:20px;background:#fff;border:1px solid #ccc;border-radius:4px"></div>
<div class="a" style="left:2126px;top:1175.3px;width:62.5px;height:20px;background:#fff;border:1px solid #ccc;border-radius:4px"></div>
<div class="a" style="left:2319.8px;top:1175.3px;width:68px;height:20px;background:#fff;border:1px solid #ccc;border-radius:4px"></div>
<div class="a" style="left:2341px;top:1176px;width:25.7px;height:20px;background:#d9d9d9"></div>
</div></body></html>
